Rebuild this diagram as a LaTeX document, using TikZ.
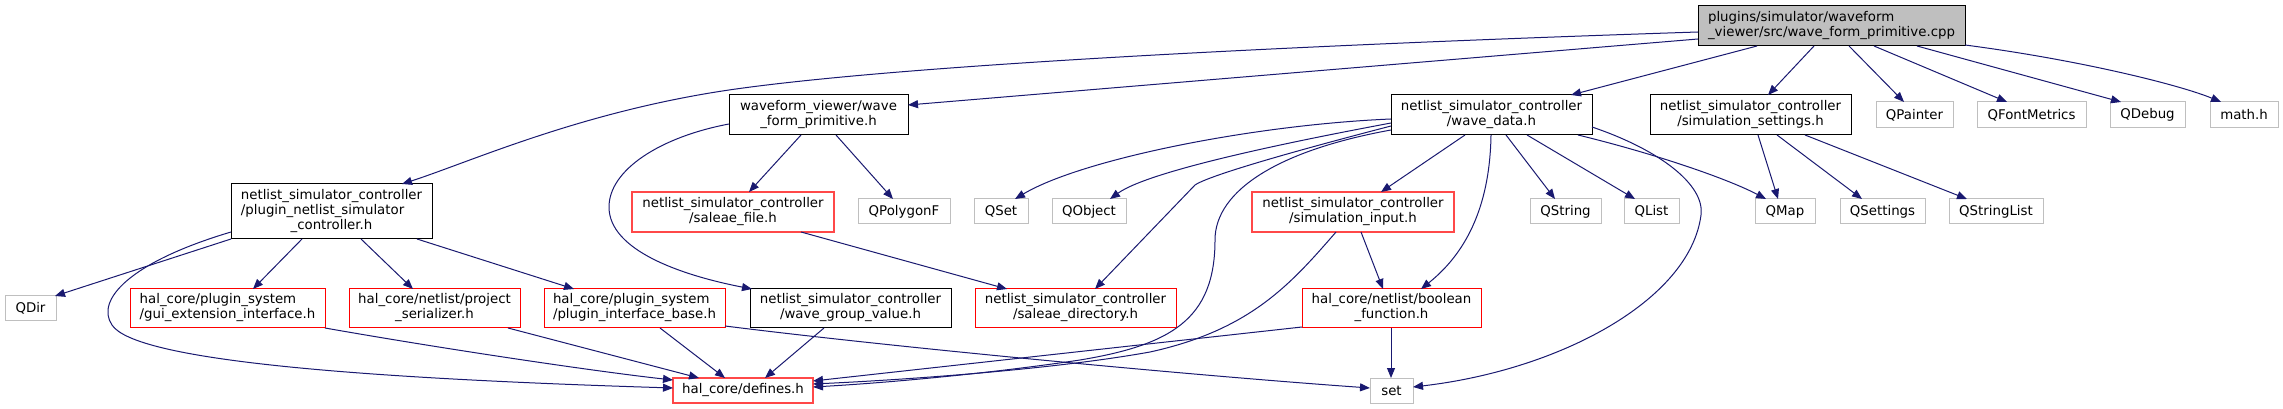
\documentclass[tikz,border=0pt]{standalone}
\usepackage{fontspec}
\setmainfont{DejaVu Sans}
\usetikzlibrary{arrows.meta,calc}
\definecolor{edgec}{HTML}{191970}
\definecolor{gboxc}{HTML}{BFBFBF}
\definecolor{lredc}{HTML}{FF4848}
\newcommand\twol[2]{\begin{tabular}{@{}c@{}}\multicolumn{1}{@{}l@{}}{#1}\\#2\end{tabular}}
\newcommand\threel[3]{\begin{tabular}{@{}c@{}}\multicolumn{1}{@{}l@{}}{#1}\\\multicolumn{1}{@{}l@{}}{#2}\\#3\end{tabular}}
\newcommand\bx[7]{\node[#1, minimum width={0.75pt*(#5-#3)}, minimum height={0.75pt*(#6-#4)}] (#2) at ({(#3+#5)/2},{(#4+#6)/2}) {#7};}
\begin{document}
\begin{tikzpicture}[x=0.75pt,y=-0.75pt,
 base/.style={rectangle,inner sep=0pt,outer sep=0pt,line width=0.75pt,font=\fontsize{10}{11.25}\selectfont},
 blk/.style={base,draw=black,fill=white},
 redb/.style={base,draw=red,fill=white},
 lredb/.style={base,draw=lredc,line width=1pt,fill=white},
 gry/.style={base,draw=gboxc,fill=white},
 rootb/.style={base,draw=black,fill=gboxc},
 edg/.style={draw=edgec,line width=0.75pt,-{Triangle[length=7.5pt,width=6pt]}}]
\fill[white] (0,0) rectangle (2283,409);
\useasboundingbox (0,0) rectangle (2283,409);
% nodes
\bx{rootb}{root}{1698}{6}{1965}{46}{\twol{plugins/simulator/waveform}{\_viewer/src/wave\_form\_primitive.cpp}}
\bx{blk}{wfp}{729}{95}{908}{135}{\twol{waveform\_viewer/wave}{\_form\_primitive.h}}
\bx{blk}{wd}{1391}{95}{1592}{135}{\twol{netlist\_simulator\_controller}{/wave\_data.h}}
\bx{blk}{ss}{1650}{95}{1851}{135}{\twol{netlist\_simulator\_controller}{/simulation\_settings.h}}
\bx{gry}{qpainter}{1876}{102}{1953}{128}{QPainter}
\bx{gry}{qfm}{1977}{102}{2086}{128}{QFontMetrics}
\bx{gry}{qdebug}{2110}{102}{2185}{128}{QDebug}
\bx{gry}{mathh}{2210}{102}{2278}{128}{math.h}
\bx{blk}{pnsc}{231}{184}{432}{239}{\threel{netlist\_simulator\_controller}{/plugin\_netlist\_simulator}{\_controller.h}}
\bx{lredb}{sf}{632}{192}{834}{232}{\twol{netlist\_simulator\_controller}{/saleae\_file.h}}
\bx{gry}{qpoly}{858}{199}{950}{224}{QPolygonF}
\bx{gry}{qset}{974}{199}{1028}{224}{QSet}
\bx{gry}{qobj}{1052}{199}{1126}{224}{QObject}
\bx{lredb}{si}{1252}{192}{1454}{232}{\twol{netlist\_simulator\_controller}{/simulation\_input.h}}
\bx{gry}{qstring}{1530}{199}{1601}{224}{QString}
\bx{gry}{qlist}{1624}{199}{1679}{224}{QList}
\bx{gry}{qmap}{1755}{199}{1815}{224}{QMap}
\bx{gry}{qsettings}{1840}{199}{1925}{224}{QSettings}
\bx{gry}{qsl}{1949}{199}{2043}{224}{QStringList}
\bx{gry}{qdir}{5}{296}{56}{321}{QDir}
\bx{redb}{gei}{130}{289}{325}{328}{\twol{hal\_core/plugin\_system}{/gui\_extension\_interface.h}}
\bx{redb}{ps}{349}{289}{520}{328}{\twol{hal\_core/netlist/project}{\_serializer.h}}
\bx{redb}{pib}{544}{289}{725}{328}{\twol{hal\_core/plugin\_system}{/plugin\_interface\_base.h}}
\bx{blk}{wgv}{750}{289}{951}{328}{\twol{netlist\_simulator\_controller}{/wave\_group\_value.h}}
\bx{redb}{sd}{975}{289}{1176}{328}{\twol{netlist\_simulator\_controller}{/saleae\_directory.h}}
\bx{redb}{bf}{1302}{289}{1481}{328}{\twol{hal\_core/netlist/boolean}{\_function.h}}
\bx{lredb}{df}{673}{378}{813}{403}{hal\_core/defines.h}
\bx{gry}{setn}{1370}{378}{1413}{403}{set}
% edges from root
\draw[edg] ($(root.north west)+(0,26)$) .. controls (1300,45) and (900,65) .. (729,90) .. controls (580,112) and (470,162) .. ($(pnsc.north west)+(171,0)$);
\draw[edg] ($(root.north west)+(0,33)$) -- ($(wfp.north west)+(179,10)$);
\draw[edg] ($(root.north west)+(59,40)$) -- ($(wd.north west)+(180,0)$);
\draw[edg] ($(root.north west)+(116,40)$) -- ($(ss.north west)+(118,0)$);
\draw[edg] ($(root.north west)+(151,40)$) -- ($(qpainter.north west)+(28,0)$);
\draw[edg] ($(root.north west)+(176,40)$) -- ($(qfm.north west)+(30,0)$);
\draw[edg] ($(root.north west)+(219,40)$) -- ($(qdebug.north west)+(11,0)$);
\draw[edg] ($(root.north west)+(267,39)$) .. controls (2080,60) and (2180,85) .. ($(mathh.north west)+(11,0)$);
% wave_form_primitive.h
\draw[edg] ($(wfp.north west)+(72,40)$) -- ($(sf.north west)+(117,0)$);
\draw[edg] ($(wfp.north west)+(107,40)$) -- ($(qpoly.north west)+(35,0)$);
\draw[edg] ($(wfp.north west)+(0,29)$) .. controls (660,137) and (609,170) .. (609,207) .. controls (609,250) and (680,275) .. ($(wgv.north west)+(2,0)$);
\draw[edg] ($(sf.north west)+(169,40)$) -- ($(sd.north west)+(32,0)$);
% plugin_netlist_simulator_controller.h
\draw[edg] ($(pnsc.north west)+(0,55)$) -- ($(qdir.north west)+(50,0)$);
\draw[edg] ($(pnsc.north west)+(0,48)$) .. controls (130,262) and (95,300) .. (112,325) .. controls (135,360) and (350,378) .. ($(df.north west)+(0,10)$);
\draw[edg] ($(pnsc.north west)+(71,55)$) -- ($(gei.north west)+(123,0)$);
\draw[edg] ($(pnsc.north west)+(130,55)$) -- ($(ps.north west)+(64,0)$);
\draw[edg] ($(pnsc.north west)+(186,55)$) -- ($(pib.north west)+(30,0)$);
\draw[edg] ($(gei.north west)+(195,39)$) .. controls (450,350) and (600,372) .. ($(df.north west)+(0,2)$);
\draw[edg] ($(ps.north west)+(159,39)$) -- ($(df.north west)+(26,0)$);
\draw[edg] ($(pib.north west)+(116,39)$) -- ($(df.north west)+(52,0)$);
\draw[edg] ($(pib.north west)+(181,37)$) .. controls (900,348) and (1200,376) .. ($(setn.north west)+(0,10)$);
\draw[edg] ($(wgv.north west)+(74,39)$) -- ($(df.north west)+(92,0)$);
% wave_data.h
\draw[edg] ($(wd.north west)+(0,24)$) .. controls (1250,125) and (1080,160) .. ($(qset.north west)+(41,0)$);
\draw[edg] ($(wd.north west)+(0,28)$) .. controls (1300,140) and (1150,170) .. ($(qobj.north west)+(58,0)$);
\draw[edg] ($(wd.north west)+(0,31)$) .. controls (1260,160) and (1205,178) .. (1195,185) -- ($(sd.north west)+(120,0)$);
\draw[edg] ($(wd.north west)+(0,35)$) .. controls (1280,150) and (1215,190) .. (1215,240) .. controls (1215,320) and (1170,345) .. (1080,360) .. controls (1000,372) and (900,382) .. ($(df.north west)+(140,9)$);
\draw[edg] ($(wd.north west)+(74,40)$) -- ($(si.north west)+(129,0)$);
\draw[edg] ($(wd.north west)+(100,40)$) .. controls (1490,200) and (1470,250) .. ($(bf.north west)+(119,0)$);
\draw[edg] ($(wd.north west)+(115,40)$) -- ($(qstring.north west)+(25,0)$);
\draw[edg] ($(wd.north west)+(136,40)$) -- ($(qlist.north west)+(11,0)$);
\draw[edg] ($(wd.north west)+(187,40)$) .. controls (1660,155) and (1730,180) .. ($(qmap.north west)+(11,0)$);
\draw[edg] ($(wd.north west)+(201,32)$) .. controls (1660,150) and (1705,185) .. (1701,215) .. controls (1690,300) and (1560,370) .. ($(setn.north west)+(43,9)$);
% simulation_input.h and boolean_function.h
\draw[edg] ($(si.north west)+(84,40)$) .. controls (1290,285) and (1250,330) .. (1150,352) .. controls (1050,370) and (900,380) .. ($(df.north west)+(140,6)$);
\draw[edg] ($(si.north west)+(109,40)$) -- ($(bf.north west)+(81,0)$);
\draw[edg] ($(bf.north west)+(0,38)$) -- ($(df.north west)+(140,3)$);
\draw[edg] ($(bf.north west)+(89,39)$) -- ($(setn.north west)+(21,0)$);
% simulation_settings.h
\draw[edg] ($(ss.north west)+(108,40)$) -- ($(qmap.north west)+(23,0)$);
\draw[edg] ($(ss.north west)+(127,40)$) -- ($(qsettings.north west)+(22,0)$);
\draw[edg] ($(ss.north west)+(155,40)$) -- ($(qsl.north west)+(18,0)$);
\end{tikzpicture}
\end{document}
